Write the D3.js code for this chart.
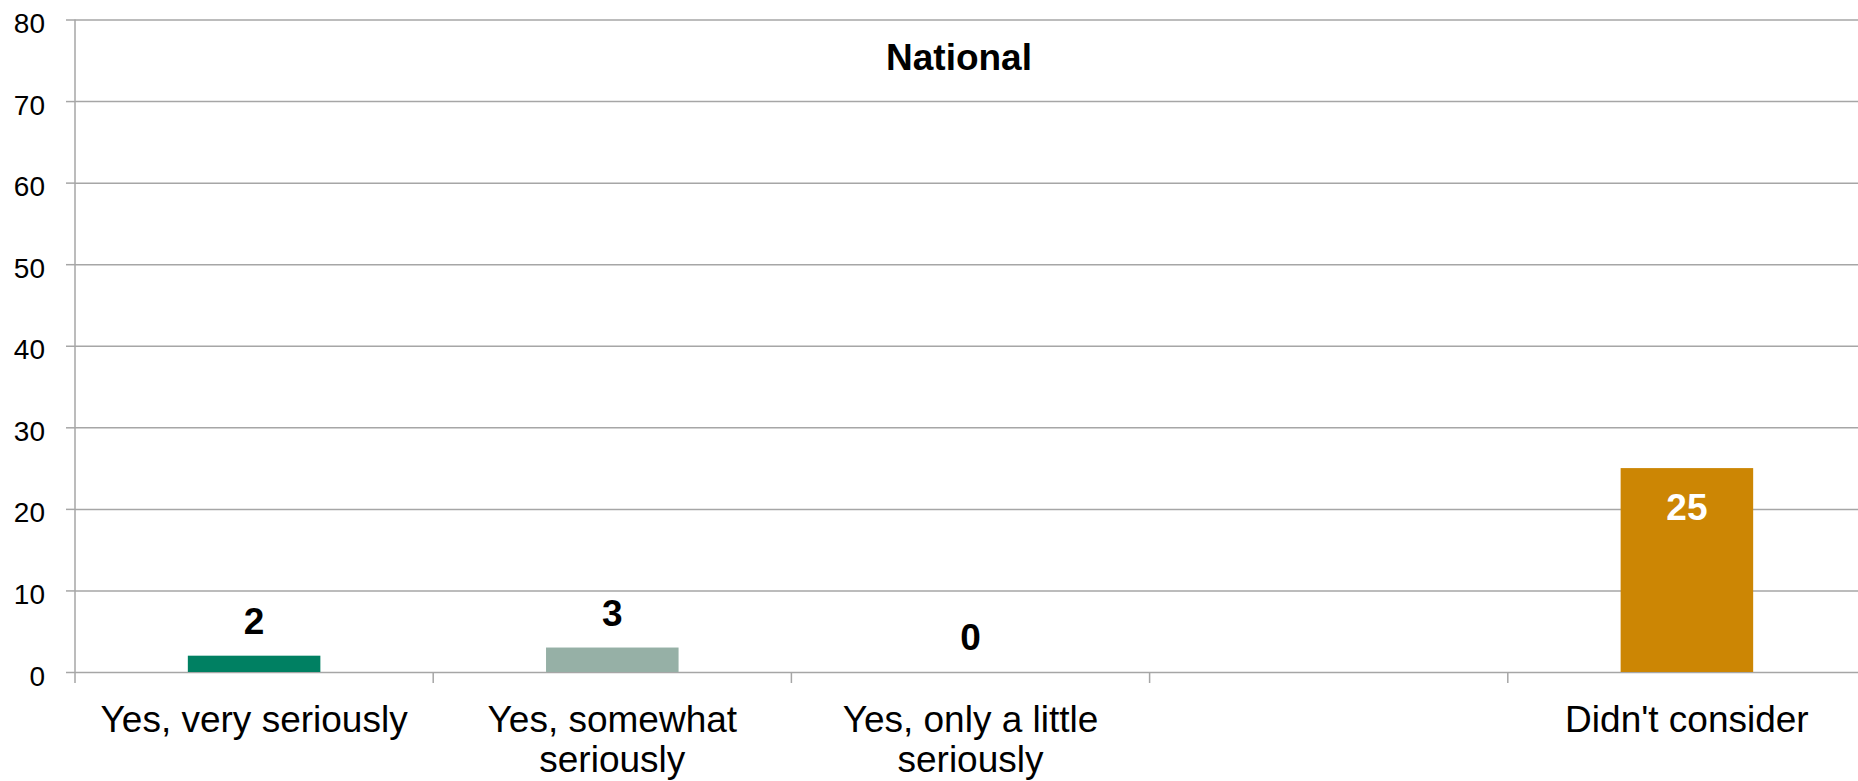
<!DOCTYPE html>
<html>
<head>
<meta charset="utf-8">
<script src="https://cdn.jsdelivr.net/npm/d3@7"></script>
<style>
  html, body { margin: 0; padding: 0; background: #fff; overflow: hidden; }
  svg { display: block; font-family: Arial, "Liberation Sans", sans-serif; }
</style>
</head>
<body>
<svg id="chart" width="1858" height="781"></svg>
<script>
const categories = ["Yes, very seriously", "Yes, somewhat seriously", "Yes, only a little seriously", "", "Didn't consider"];
const values = [2, 3, 0, null, 25];
const barColors = ["#008062", "#96B0A6", "#CC8604", "#CC8604", "#CC8604"];
const yTicks = [0, 10, 20, 30, 40, 50, 60, 70, 80];
const title = "National";

(function () {
const svg = d3.select("#chart");
const pLeft = 75, pRight = 1866, pTop = 19.5, pBottom = 672;
const gridColor = "#a6a6a6";

const x = d3.scaleBand().domain(d3.range(categories.length)).range([pLeft, pRight]).padding(0);
const y = d3.scaleLinear().domain([0, 80]).range([pBottom, pTop]);

// gridlines
const grid = svg.append("g").attr("transform", `translate(${pLeft},0)`)
  .call(d3.axisLeft(y).tickValues(yTicks).tickSize(-(pRight - pLeft)).tickFormat(""));
grid.select(".domain").remove();
grid.selectAll("line").attr("stroke", gridColor).attr("stroke-width", 1.5);

// y axis
const yAxis = svg.append("g").attr("transform", `translate(${pLeft},0)`)
  .call(d3.axisLeft(y).tickValues(yTicks).tickSize(9).tickPadding(0).tickFormat(d3.format("d")));
yAxis.select(".domain").remove();
yAxis.selectAll("line").attr("stroke", gridColor).attr("stroke-width", 1.5);
yAxis.selectAll("text")
  .attr("x", -30).attr("dy", null).attr("y", 13)
  .attr("font-size", 28).attr("fill", "#000")
  .attr("font-family", "Arial, 'Liberation Sans', sans-serif");
svg.append("line").attr("x1", pLeft).attr("x2", pLeft).attr("y1", pTop).attr("y2", pBottom + 11)
  .attr("stroke", gridColor).attr("stroke-width", 1.5);

// x axis boundary ticks
const bounds = d3.range(categories.length + 1).map(i => i < categories.length ? x(i) : x(categories.length - 1) + x.bandwidth());
svg.append("g").selectAll("line").data(bounds.slice(1)).join("line")
  .attr("x1", d => d).attr("x2", d => d).attr("y1", pBottom).attr("y2", pBottom + 11)
  .attr("stroke", gridColor).attr("stroke-width", 1.5);

// bars
const bw = x.bandwidth() * 0.37;
const data = values.map((v, i) => ({ i, v, c: categories[i] })).filter(d => d.v !== null);
svg.append("g").selectAll("rect").data(data).join("rect")
  .attr("x", d => x(d.i) + x.bandwidth() / 2 - bw / 2)
  .attr("width", bw)
  .attr("y", d => y(d.v))
  .attr("height", d => y(0) - y(d.v))
  .attr("fill", d => barColors[d.i]);

// value labels
svg.append("g").selectAll("text").data(data).join("text")
  .attr("x", d => x(d.i) + x.bandwidth() / 2)
  .attr("y", d => d.v > 10 ? y(d.v) + 52 : y(d.v) - 22)
  .attr("text-anchor", "middle")
  .attr("font-size", 37).attr("font-weight", "bold")
  .attr("fill", d => d.v > 10 ? "#fff" : "#000")
  .text(d => d.v);

// category labels with wrapping
const ctx = document.createElement("canvas").getContext("2d");
ctx.font = "37px Arial, 'Liberation Sans', sans-serif";
function wrapWords(s, maxW) {
  const words = s.split(" "); const lines = []; let cur = "";
  words.forEach(w => {
    const t = cur ? cur + " " + w : w;
    if (ctx.measureText(t).width > maxW && cur) { lines.push(cur); cur = w; } else cur = t;
  });
  if (cur) lines.push(cur);
  return lines;
}
const labG = svg.append("g");
categories.forEach((c, i) => {
  if (!c) return;
  const lines = wrapWords(c, 340);
  const t = labG.append("text")
    .attr("text-anchor", "middle")
    .attr("font-size", 37).attr("fill", "#000");
  lines.forEach((ln, k) => {
    t.append("tspan").attr("x", x(i) + x.bandwidth() / 2).attr("y", 732 + k * 40).text(ln);
  });
});

// title
svg.append("text").attr("x", 959).attr("y", 70).attr("text-anchor", "middle")
  .attr("font-size", 37).attr("font-weight", "bold").attr("fill", "#000").text(title);
})();
</script>
</body>
</html>
